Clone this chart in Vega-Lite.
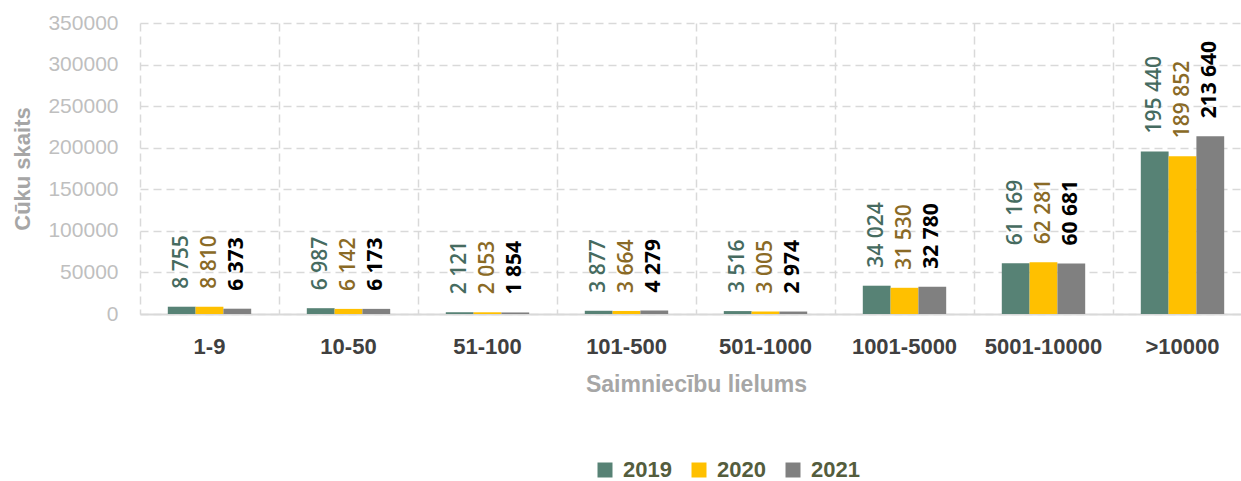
{
  "$schema": "https://vega.github.io/schema/vega-lite/v6.json",
  "width": 1101,
  "height": 291,
  "autosize": {"type": "none"},
  "padding": {"left": 140, "top": 23, "right": 0, "bottom": 167},
  "config": {
    "font": "Liberation Sans",
    "view": {"stroke": null},
    "locale": {"number": {"decimal": ",", "thousands": " ", "grouping": [3], "currency": ["", " €"]}}
  },
  "data": {
    "values": [
      {"size": "1-9", "year": "2019", "value": 8755},
      {"size": "1-9", "year": "2020", "value": 8810},
      {"size": "1-9", "year": "2021", "value": 6373},
      {"size": "10-50", "year": "2019", "value": 6987},
      {"size": "10-50", "year": "2020", "value": 6142},
      {"size": "10-50", "year": "2021", "value": 6173},
      {"size": "51-100", "year": "2019", "value": 2121},
      {"size": "51-100", "year": "2020", "value": 2053},
      {"size": "51-100", "year": "2021", "value": 1854},
      {"size": "101-500", "year": "2019", "value": 3877},
      {"size": "101-500", "year": "2020", "value": 3664},
      {"size": "101-500", "year": "2021", "value": 4279},
      {"size": "501-1000", "year": "2019", "value": 3516},
      {"size": "501-1000", "year": "2020", "value": 3005},
      {"size": "501-1000", "year": "2021", "value": 2974},
      {"size": "1001-5000", "year": "2019", "value": 34024},
      {"size": "1001-5000", "year": "2020", "value": 31530},
      {"size": "1001-5000", "year": "2021", "value": 32780},
      {"size": "5001-10000", "year": "2019", "value": 61169},
      {"size": "5001-10000", "year": "2020", "value": 62281},
      {"size": "5001-10000", "year": "2021", "value": 60681},
      {"size": ">10000", "year": "2019", "value": 195440},
      {"size": ">10000", "year": "2020", "value": 189852},
      {"size": ">10000", "year": "2021", "value": 213640}
    ]
  },
  "encoding": {
    "x": {
      "field": "size",
      "type": "nominal",
      "sort": ["1-9", "10-50", "51-100", "101-500", "501-1000", "1001-5000", "5001-10000", ">10000"],
      "scale": {"range": [0, 1112], "paddingInner": 0, "paddingOuter": 0},
      "axis": {
        "title": "Saimniecību lielums",
        "titleFontSize": 23,
        "titleFontWeight": "bold",
        "titleColor": "#a6a6a6",
        "titlePadding": 16,
        "labelAngle": 0,
        "labelFontSize": 22,
        "labelFontWeight": "bold",
        "labelColor": "#404040",
        "labelPadding": 22,
        "bandPosition": 0,
        "ticks": false,
        "tickSize": 0,
        "domain": true,
        "domainColor": "#d9d9d9",
        "domainWidth": 2,
        "grid": true,
        "gridColor": "#d9d9d9",
        "gridDash": [8, 5],
        "gridWidth": 1.5
      }
    },
    "xOffset": {
      "field": "year",
      "type": "nominal",
      "scale": {"paddingInner": 0, "paddingOuter": 1.07}
    },
    "y": {
      "field": "value",
      "type": "quantitative",
      "scale": {"domain": [0, 350000], "nice": false},
      "axis": {
        "title": "Cūku skaits",
        "titleFontSize": 22,
        "titleFontWeight": "bold",
        "titleColor": "#a6a6a6",
        "titlePadding": 13,
        "values": [0, 50000, 100000, 150000, 200000, 250000, 300000, 350000],
        "format": "d",
        "labelFontSize": 21,
        "labelColor": "#bfbfbf",
        "labelPadding": 22,
        "ticks": false,
        "tickSize": 0,
        "domain": false,
        "grid": true,
        "gridColor": "#d9d9d9",
        "gridDash": [8, 5],
        "gridWidth": 1.5
      }
    }
  },
  "layer": [
    {
      "mark": {"type": "bar"},
      "encoding": {
        "color": {
          "field": "year",
          "type": "nominal",
          "scale": {"domain": ["2019", "2020", "2021"], "range": ["#578275", "#ffc000", "#808080"]},
          "legend": {
            "orient": "none",
            "legendX": 454,
            "legendY": 436,
            "direction": "horizontal",
            "title": null,
            "symbolType": "square",
            "symbolSize": 225,
            "symbolStrokeWidth": 0,
            "labelFontSize": 22,
            "labelFontWeight": "bold",
            "labelColor": "#545d3d",
            "labelOffset": 7,
            "labelLimit": 300,
            "columnPadding": 16
          }
        }
      }
    },
    {
      "transform": [{"filter": "datum.year != '2021'"}],
      "mark": {"type": "text", "angle": 270, "align": "left", "baseline": "middle", "dx": 18, "fontSize": 21, "font": "Open Sans", "fontWeight": 600},
      "encoding": {
        "text": {"field": "value", "type": "quantitative", "format": ",d"},
        "color": {"condition": {"test": "datum.year == '2019'", "value": "#466b60"}, "value": "#8a6a26"}
      }
    },
    {
      "transform": [{"filter": "datum.year == '2021'"}],
      "mark": {"type": "text", "angle": 270, "align": "left", "baseline": "middle", "dx": 18, "fontSize": 21, "font": "Open Sans", "fontWeight": "bold", "color": "#000000"},
      "encoding": {
        "text": {"field": "value", "type": "quantitative", "format": ",d"}
      }
    }
  ]
}
